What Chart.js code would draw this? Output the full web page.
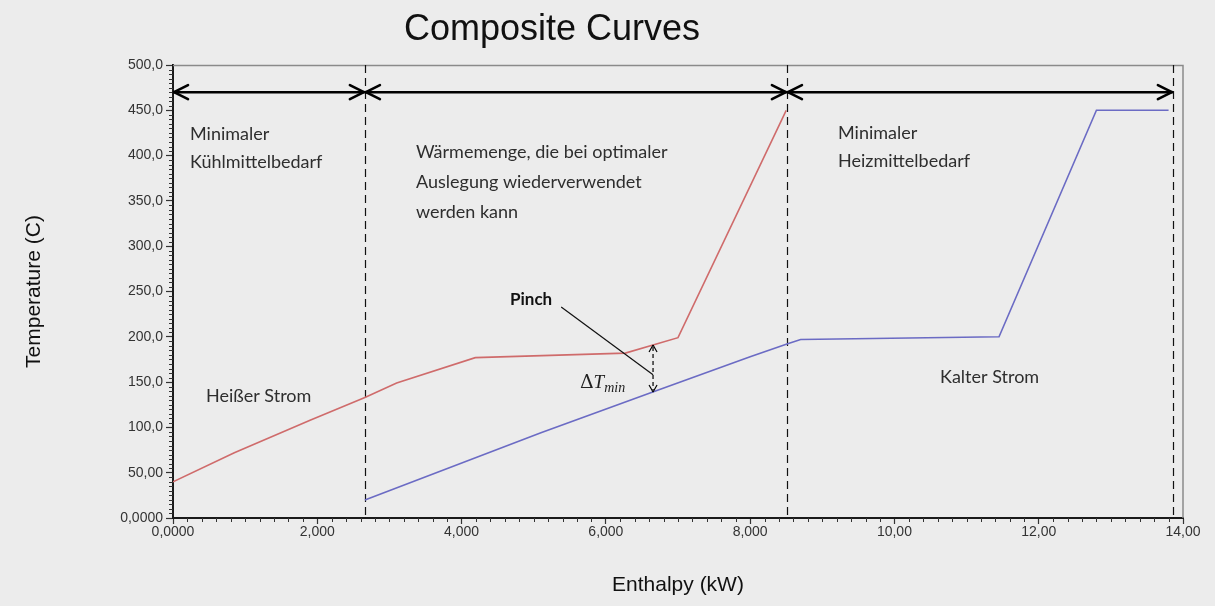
<!DOCTYPE html>
<html>
<head>
<meta charset="utf-8">
<title>Composite Curves</title>
<script src="https://cdn.jsdelivr.net/npm/chart.js@4.4.1/dist/chart.umd.min.js"></script>
<style>
  html, body { margin: 0; padding: 0; background: #ececec; }
  canvas { display: block; }
</style>
</head>
<body>
<canvas id="chart" width="1215" height="606"></canvas>
<script>
// Hot composite curve (enthalpy in kW, temperature in °C)
const hotEnthalpy = [0, 850, 1900, 2660, 3100, 4190, 6270, 7000, 8500];
const hotTemp     = [40, 72, 108, 133, 149, 177, 182, 199, 450];

// Cold composite curve
const coldEnthalpy = [2660, 5100, 6650, 8000, 8510, 8700, 11450, 12800, 13800];
const coldTemp     = [20, 94, 139, 178, 192, 197, 200, 450, 450];

// Boundaries between cooling demand, heat recovery and heating demand
const regionBounds = [0, 2660, 8510, 13860];
const regionArrowTemp = 470;

// Pinch: minimum temperature difference between the curves
const pinchEnthalpy = 6654;
const pinchHotTemp = 191;
const pinchColdTemp = 139;

// Axis ticks
const xTickValues = [0, 2000, 4000, 6000, 8000, 10000, 12000, 14000];
const xTickLabels = ['0,0000', '2,000', '4,000', '6,000', '8,000', '10,00', '12,00', '14,00'];
const yTickValues = [0, 50, 100, 150, 200, 250, 300, 350, 400, 450, 500];
const yTickLabels = ['0,0000', '50,00', '100,0', '150,0', '200,0', '250,0', '300,0', '350,0', '400,0', '450,0', '500,0'];

const toPoints = (xs, ys) => xs.map((x, i) => ({ x: x, y: ys[i] }));

// Text notes placed in data units (enthalpy, temperature)
const notes = [
  { lines: ['Minimaler', 'Kühlmittelbedarf'], x: 236, y: 424, lh: 28 },
  { lines: ['Wärmemenge, die bei optimaler', 'Auslegung wiederverwendet', 'werden kann'], x: 3368, y: 404, lh: 30 },
  { lines: ['Minimaler', 'Heizmittelbedarf'], x: 9218, y: 425, lh: 28 },
  { lines: ['Heißer Strom'], x: 457, y: 135, lh: 28 },
  { lines: ['Kalter Strom'], x: 10632, y: 155, lh: 28 }
];
const pinchLabel = { text: 'Pinch', x: 4671, y: 241 };
const pinchLeader = { x1: 5381, y1: 233, x2: 6654, y2: 158 };
const deltaLabel = { x: 5640, y: 149 };

const NOTE_FONT = '18px Lato, "Open Sans", sans-serif';
const SANS = '"Liberation Sans", Arial, sans-serif';

function openHead(ctx, x, y, ang, len, half) {
  const c = Math.cos(ang), s = Math.sin(ang);
  ctx.beginPath();
  ctx.moveTo(x - len * c - half * s, y - len * s + half * c);
  ctx.lineTo(x, y);
  ctx.moveTo(x - len * c + half * s, y - len * s - half * c);
  ctx.lineTo(x, y);
  ctx.stroke();
}

const decor = {
  id: 'decor',
  beforeDraw(chart) {
    const ctx = chart.ctx;
    ctx.save();
    ctx.fillStyle = '#ececec';
    ctx.fillRect(0, 0, chart.width, chart.height);
    ctx.restore();
  },
  beforeDatasetsDraw(chart) {
    const ctx = chart.ctx, a = chart.chartArea;
    const sx = chart.scales.x;
    ctx.save();
    // plot frame (top and right)
    ctx.strokeStyle = '#8a8a8a';
    ctx.lineWidth = 1.5;
    ctx.beginPath();
    ctx.moveTo(a.left, a.top + 0.5);
    ctx.lineTo(a.right, a.top + 0.5);
    ctx.lineTo(a.right, a.bottom);
    ctx.stroke();
    // dashed region boundaries
    ctx.strokeStyle = '#111';
    ctx.lineWidth = 1.2;
    ctx.setLineDash([8, 5]);
    regionBounds.slice(1).forEach(v => {
      const x = Math.round(sx.getPixelForValue(v)) + 0.5;
      ctx.beginPath();
      ctx.moveTo(x, a.top);
      ctx.lineTo(x, a.bottom);
      ctx.stroke();
    });
    ctx.setLineDash([]);
    ctx.restore();
  },
  afterDraw(chart) {
    const ctx = chart.ctx, a = chart.chartArea;
    const sx = chart.scales.x, sy = chart.scales.y;
    const px = v => sx.getPixelForValue(v), py = v => sy.getPixelForValue(v);
    ctx.save();

    // minor ticks
    ctx.strokeStyle = '#333';
    ctx.lineWidth = 1;
    ctx.beginPath();
    for (let v = 0; v <= 14000; v += 200) {
      if (v % 2000 === 0) continue;
      const x = Math.round(px(v)) + 0.5;
      ctx.moveTo(x, a.bottom);
      ctx.lineTo(x, a.bottom + 4);
    }
    for (let v = 0; v <= 500; v += 5) {
      if (v % 50 === 0) continue;
      const y = Math.round(py(v)) + 0.5;
      ctx.moveTo(a.left, y);
      ctx.lineTo(a.left - 4, y);
    }
    ctx.stroke();

    // region arrows
    ctx.strokeStyle = '#000';
    ctx.lineWidth = 2.6;
    ctx.lineCap = 'round';
    const ya = py(regionArrowTemp);
    for (let i = 0; i < regionBounds.length - 1; i++) {
      const x1 = px(regionBounds[i]) + 1, x2 = px(regionBounds[i + 1]) - 1;
      ctx.beginPath();
      ctx.moveTo(x1, ya);
      ctx.lineTo(x2, ya);
      ctx.stroke();
      openHead(ctx, x1, ya, Math.PI, 14, 7);
      openHead(ctx, x2, ya, 0, 14, 7);
    }

    // pinch ΔTmin arrow
    ctx.lineWidth = 1.2;
    ctx.lineCap = 'butt';
    const xp = px(pinchEnthalpy), yt = py(pinchHotTemp), yb = py(pinchColdTemp);
    ctx.setLineDash([4, 3]);
    ctx.beginPath();
    ctx.moveTo(xp, yt + 2);
    ctx.lineTo(xp, yb - 2);
    ctx.stroke();
    ctx.setLineDash([]);
    openHead(ctx, xp, yt, -Math.PI / 2, 7, 4);
    openHead(ctx, xp, yb, Math.PI / 2, 7, 4);

    // pinch leader line
    ctx.lineWidth = 1.2;
    ctx.strokeStyle = '#111';
    ctx.beginPath();
    ctx.moveTo(px(pinchLeader.x1), py(pinchLeader.y1));
    ctx.lineTo(px(pinchLeader.x2), py(pinchLeader.y2));
    ctx.stroke();

    // notes
    ctx.fillStyle = '#2e2e2e';
    ctx.textBaseline = 'middle';
    ctx.textAlign = 'left';
    ctx.font = NOTE_FONT;
    notes.forEach(n => {
      n.lines.forEach((t, i) => ctx.fillText(t, px(n.x), py(n.y) + i * n.lh));
    });
    ctx.font = 'bold 17px Lato, "Open Sans", sans-serif';
    ctx.fillStyle = '#111';
    ctx.fillText(pinchLabel.text, px(pinchLabel.x), py(pinchLabel.y));

    // ΔT_min
    let dx = px(deltaLabel.x);
    const dy = py(deltaLabel.y);
    ctx.fillStyle = '#222';
    ctx.font = '19px "DejaVu Serif", "Liberation Serif", serif';
    ctx.fillText('Δ', dx, dy);
    dx += ctx.measureText('Δ').width;
    ctx.font = 'italic 19px "Liberation Serif", serif';
    ctx.fillText('T', dx, dy);
    dx += ctx.measureText('T').width;
    ctx.font = 'italic 14px "Liberation Serif", serif';
    ctx.fillText('min', dx, dy + 5);

    // titles
    ctx.fillStyle = '#111';
    ctx.textAlign = 'center';
    ctx.font = '36px ' + SANS;
    ctx.fillText('Composite Curves', 552, 30);
    ctx.font = '21px ' + SANS;
    ctx.fillText('Enthalpy (kW)', (a.left + a.right) / 2, 585);
    ctx.translate(34, (a.top + a.bottom) / 2);
    ctx.rotate(-Math.PI / 2);
    ctx.fillText('Temperature (C)', 0, 0);
    ctx.restore();
  }
};

new Chart(document.getElementById('chart'), {
  type: 'line',
  data: {
    datasets: [
      {
        label: 'Heißer Strom',
        data: toPoints(hotEnthalpy, hotTemp),
        borderColor: '#cf6b6b',
        borderWidth: 1.6,
        pointRadius: 0,
        tension: 0,
        fill: false
      },
      {
        label: 'Kalter Strom',
        data: toPoints(coldEnthalpy, coldTemp),
        borderColor: '#6b6bc4',
        borderWidth: 1.6,
        pointRadius: 0,
        tension: 0,
        fill: false
      }
    ]
  },
  options: {
    responsive: false,
    devicePixelRatio: 1,
    animation: false,
    layout: { padding: { left: 0, top: 65, right: 32, bottom: 0 } },
    plugins: {
      legend: { display: false },
      title: { display: false },
      tooltip: { enabled: false }
    },
    scales: {
      x: {
        type: 'linear',
        min: 0,
        max: 14000,
        afterBuildTicks: s => { s.ticks = xTickValues.map(v => ({ value: v })); },
        afterFit: s => { s.height = 88; },
        ticks: {
          autoSkip: false,
          maxRotation: 0,
          padding: 0,
          color: '#333',
          font: { family: SANS, size: 14 },
          callback: (v, i) => xTickLabels[i]
        },
        grid: { drawOnChartArea: false, tickLength: 6, tickColor: '#333', tickWidth: 1.2 },
        border: { color: '#1a1a1a', width: 2 }
      },
      y: {
        type: 'linear',
        min: 0,
        max: 500,
        afterBuildTicks: s => { s.ticks = yTickValues.map(v => ({ value: v })); },
        afterFit: s => { s.width = 173; },
        ticks: {
          autoSkip: false,
          padding: 3,
          color: '#333',
          font: { family: SANS, size: 14 },
          callback: (v, i) => yTickLabels[i]
        },
        grid: { drawOnChartArea: false, tickLength: 7, tickColor: '#333', tickWidth: 1.2 },
        border: { color: '#1a1a1a', width: 2 }
      }
    }
  },
  plugins: [decor]
});
</script>
</body>
</html>
